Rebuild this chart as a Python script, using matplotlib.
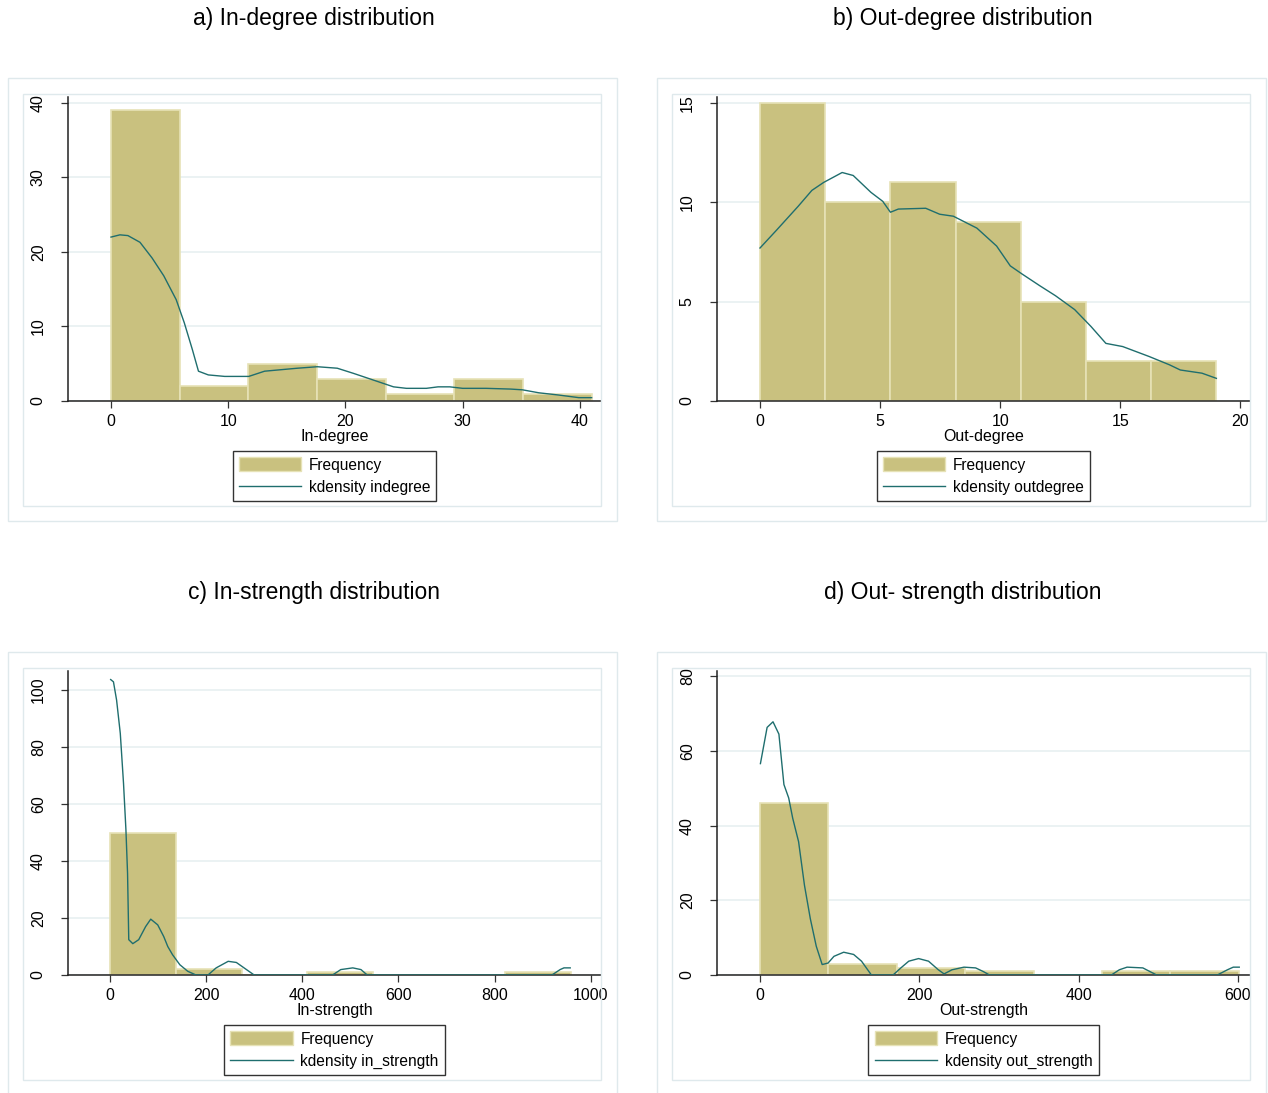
import numpy as np
import matplotlib.pyplot as plt
from matplotlib.patches import Rectangle
from matplotlib.lines import Line2D

W, H = 1268, 1093

# a) In-degree
indeg_hi = 41.0
indeg_counts = [39, 2, 5, 3, 1, 3, 1]
indeg_kx = [0, 0.76, 1.44, 2.47, 3.5, 4.5, 5.56, 6.25, 6.94, 7.46, 8.3, 9.7, 11.75, 13.1, 14.5, 15.9, 17.6,
            19.3, 20.7, 22.4, 24.1, 25.2, 26.9, 27.9, 28.9, 30, 32, 34.1, 35.1, 36.5, 38.2, 39.9, 41.0]
indeg_ky = [22.0, 22.3, 22.2, 21.3, 19.2, 16.8, 13.6, 10.5, 6.9, 4.0, 3.5, 3.3, 3.3, 4.0, 4.2, 4.4, 4.6,
            4.4, 3.7, 2.8, 1.9, 1.7, 1.7, 1.9, 1.9, 1.7, 1.7, 1.6, 1.5, 1.1, 0.8, 0.45, 0.45]

# b) Out-degree
outdeg_hi = 19.0
outdeg_counts = [15, 10, 11, 9, 5, 2, 2]
outdeg_kx = [0, 0.69, 1.59, 2.16, 2.65, 3.42, 3.88, 4.62, 5.11, 5.43, 5.76, 6.9, 7.48, 8.05, 9.03, 9.85,
             10.42, 10.9, 11.65, 12.3, 13.1, 13.78, 14.4, 15.1, 16.2, 17.05, 17.5, 18.4, 19.0]
outdeg_ky = [7.7, 8.6, 9.8, 10.6, 11.0, 11.5, 11.35, 10.5, 10.05, 9.5, 9.66, 9.7, 9.4, 9.3, 8.7, 7.8,
             6.8, 6.4, 5.8, 5.3, 4.6, 3.75, 2.9, 2.74, 2.24, 1.82, 1.56, 1.4, 1.14]

# c) In-strength
instr_hi = 958.0
instr_counts = [50, 2, 0, 1, 0, 0, 1]
instr_kx = [1.7, 7.5, 14, 21.7, 28.4, 33.4, 36.8, 39.3, 47.7, 60, 74.4, 85, 99.5, 112, 120.4, 130.4, 145.5,
            162, 179, 204, 221, 246, 263, 284, 300, 463, 480, 505, 522, 535, 919, 936, 944, 957]
instr_ky = [103.7, 102.9, 96.5, 84.8, 67.3, 51, 35.7, 12.4, 11, 12.4, 17, 19.6, 17.6, 13.5, 10, 7.1, 3.6,
            1.3, 0, 0, 2.5, 4.8, 4.4, 1.9, 0, 0, 1.9, 2.5, 1.9, 0, 0, 1.9, 2.5, 2.5]

# d) Out-strength
outstr_hi = 601.0
outstr_counts = [46, 3, 2, 1, 0, 1, 1]
outstr_kx = [0.5, 8.9, 16.3, 23.7, 30, 36, 41, 48.4, 55.8, 63.2, 70.6, 78, 85.4, 92.8, 105, 117.5, 127.4,
             139.8, 167, 176.8, 186.7, 199, 211.5, 223.8, 231, 241, 256, 270.6, 280.5, 288, 441, 451,
             460.7, 480.5, 497.8, 574, 586.7, 594, 601.5]
outstr_ky = [56.6, 66.3, 67.8, 64.5, 51, 47.4, 42, 35.7, 24, 15, 7.7, 2.8, 3.2, 5, 6.1, 5.5, 3.7,
             0, 0, 1.9, 3.7, 4.4, 3.7, 1.4, 0.3, 1.4, 2.1, 1.9, 0.9, 0, 0, 1.4,
             2.1, 1.9, 0, 0, 1.4, 2.1, 2.1]

BAR = '#c9c17f'
BAR_EDGE = '#e6e2b6'
LINE = '#1f6e6e'
GRID = '#e8f0f1'
BOX = '#dfe9ec'

plt.rcParams['font.family'] = ['Liberation Sans', 'DejaVu Sans']

fig = plt.figure(figsize=(W / 100, H / 100), dpi=100)


def fbox(x0, y0, x1, y1):
    return [x0 / W, 1 - y1 / H, (x1 - x0) / W, (y1 - y0) / H]


def frame(x0, y0, x1, y1):
    l, b, w, h = fbox(x0, y0, x1, y1)
    fig.patches.append(Rectangle((l, b), w, h, transform=fig.transFigure,
                                 fill=False, edgecolor=BOX, lw=1.0))


panels = [
    ('a) In-degree distribution', 'In-degree', 'kdensity indegree', indeg_hi, indeg_counts,
     indeg_kx, indeg_ky, (-3.67, 41.8), (0, 40.8), [0, 10, 20, 30, 40], [0, 10, 20, 30, 40], 0, 78),
    ('b) Out-degree distribution', 'Out-degree', 'kdensity outdegree', outdeg_hi, outdeg_counts,
     outdeg_kx, outdeg_ky, (-1.79, 20.4), (0, 15.3), [0, 5, 10, 15, 20], [0, 5, 10, 15], 649, 78),
    ('c) In-strength distribution', 'In-strength', 'kdensity in_strength', instr_hi, instr_counts,
     instr_kx, instr_ky, (-87, 1021), (0, 106.7), [0, 200, 400, 600, 800, 1000], [0, 20, 40, 60, 80, 100], 0, 652),
    ('d) Out- strength distribution', 'Out-strength', 'kdensity out_strength', outstr_hi, outstr_counts,
     outstr_kx, outstr_ky, (-54, 615), (0, 81.4), [0, 200, 400, 600], [0, 20, 40, 60, 80], 649, 652),
]

for title, xlabel, klabel, hi, counts, kx, ky, xl, yl, xt, yt, dx, dy in panels:
    frame(8 + dx, dy, 617 + dx, dy + 443)
    frame(23 + dx, dy + 16, 601 + dx, dy + 428)
    fig.text((314 + dx) / W, 1 - (dy - 59) / H, title, ha='center', va='center', fontsize=16.5)

    ax = fig.add_axes(fbox(68 + dx, dy + 19, 601 + dx, dy + 323))
    edges = np.linspace(0, hi, len(counts) + 1)
    ax.bar(edges[:-1], counts, width=np.diff(edges), align='edge', color=BAR,
           edgecolor=BAR_EDGE, linewidth=1.2, zorder=2)
    ax.plot(kx, ky, color=LINE, lw=1.0, zorder=3)
    ax.set_xlim(*xl)
    ax.set_ylim(*yl)
    ax.set_xticks(xt)
    ax.set_yticks(yt)
    ax.set_yticklabels([str(v) for v in yt], rotation=90, va='center')
    ax.tick_params(labelsize=11.5, length=5, width=0.9, color='#333333', pad=4)
    ax.tick_params(axis='y', pad=11)
    ax.yaxis.grid(True, color=GRID, lw=1.2, zorder=0)
    ax.set_axisbelow(True)
    for s in ('top', 'right'):
        ax.spines[s].set_visible(False)
    for s in ('left', 'bottom'):
        ax.spines[s].set_color('#222222')
        ax.spines[s].set_linewidth(1.1)
    ax.set_xlabel(xlabel, fontsize=11.5, labelpad=0)

    handles = [Rectangle((0, 0), 1, 1, facecolor=BAR, edgecolor=BAR_EDGE),
               Line2D([], [], color=LINE, lw=1.0)]
    leg = ax.legend(handles, ['Frequency', klabel], loc='upper center',
                    bbox_to_anchor=(0.5, -0.165), fontsize=11.2, frameon=True,
                    fancybox=False, edgecolor='black', handlelength=4.0,
                    handleheight=1.0, borderpad=0.4, labelspacing=0.45,
                    handletextpad=0.5, borderaxespad=0)
    leg.get_frame().set_linewidth(1.0)

fig.savefig('out.png', dpi=100, facecolor='white')
